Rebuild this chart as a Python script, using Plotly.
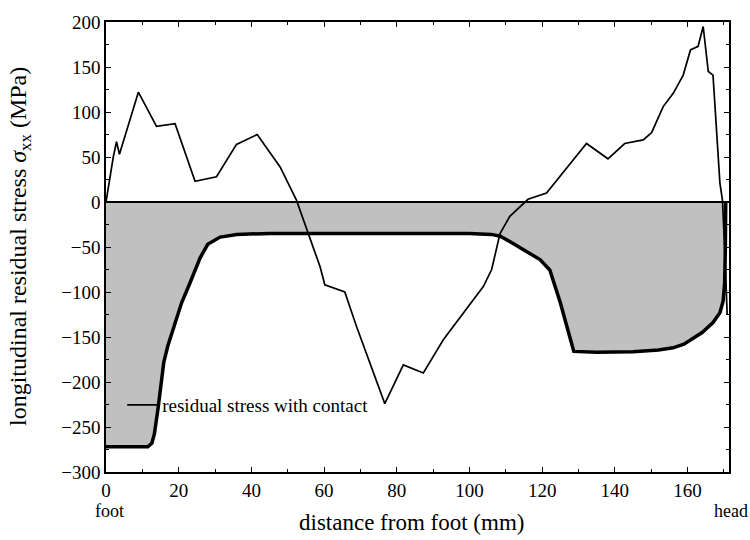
import plotly.graph_objects as go

# Residual stress along the rail, from foot (0 mm) to head (~171 mm)

# Stress distribution with contact (thin black line)
contact_x = [0, 1.0, 2.0, 2.9, 3.7, 8.9, 13.9, 19.0, 24.5, 30.4, 35.9, 41.6,
             47.9, 52.4, 55.6, 58.9, 60.2, 65.7, 68.9, 76.7, 81.8, 87.3, 92.8,
             103.8, 106.1, 108.4, 111.1, 116.1, 121.2, 132.2, 138.1, 142.7,
             147.8, 150.1, 153.3, 156.1, 158.8, 160.8, 162.9, 164.3, 165.7,
             167.0, 168.9, 169.6, 170.3, 170.9]
contact_y = [0, 25, 50, 67, 53, 122, 84, 87, 23, 28, 64, 75,
             39, 2, -35, -72, -92, -100, -138, -224, -181, -190, -153,
             -94, -75, -35, -16, 3, 10, 65, 48, 65,
             69, 77, 106, 121, 141, 169, 173, 195, 145,
             141, 21, 2, -60, -125]

# Compressive stress profile without contact (shaded region)
base_x = [0, 11.5, 12.6, 13.3, 14.3, 15.3, 15.9, 17.0, 19.0, 20.8, 23.1, 25.9,
          28.0, 31.4, 36.0, 45.0, 70.0, 100.0, 106.0, 108.5, 112.0, 116.0,
          119.4, 122.1, 125.0, 127.6, 128.7, 135.0, 145.0, 152.0, 156.0,
          159.0, 161.4, 164.0, 167.0, 168.9, 169.8, 170.2, 170.4, 170.5]
base_y = [-272, -272, -268, -258, -230, -200, -178, -160, -135, -112, -90, -62,
          -47, -39, -36, -35, -35, -35, -36, -38, -46, -56,
          -64, -75.5, -112, -150, -166, -167, -166.5, -164.5, -162,
          -158, -152, -145, -134, -123, -110, -90, -50, 0]

legend_label = "residual stress with contact"
x_title = "distance from foot (mm)"
y_title = "longitudinal residual stress <i>σ</i><sub>xx</sub> (MPa)"
x_ticks = [0, 20, 40, 60, 80, 100, 120, 140, 160]
y_ticks = [200, 150, 100, 50, 0, -50, -100, -150, -200, -250, -300]
x_range = [0, 171.4]
y_range = [-300, 200]

SERIF = "Liberation Serif"

fig = go.Figure()

# shaded compressive zone bounded by a heavy outline
fig.add_trace(go.Scatter(
    x=base_x, y=base_y, mode="lines", fill="tozeroy",
    fillcolor="#c0c0c0", line=dict(color="black", width=3.5),
    showlegend=False, hoverinfo="skip"))

# zero-stress reference line
fig.add_trace(go.Scatter(
    x=x_range, y=[0, 0], mode="lines",
    line=dict(color="black", width=2), showlegend=False, hoverinfo="skip"))

fig.add_trace(go.Scatter(
    x=contact_x, y=contact_y, mode="lines", name=legend_label,
    line=dict(color="black", width=1.7)))

tick_font = dict(family=SERIF, size=19, color="black")

axis_common = dict(
    showline=True, linecolor="black", linewidth=1.5, mirror="ticks",
    ticks="inside", ticklen=5, tickwidth=1.2, tickcolor="black",
    showgrid=False, zeroline=False,
)

fig.update_xaxes(range=x_range, tickvals=x_ticks, tickfont=tick_font,
                 minor=dict(dtick=10, ticks="inside", ticklen=3,
                            tickcolor="black", showgrid=False),
                 **axis_common)
fig.update_yaxes(range=y_range, tickvals=y_ticks, tickfont=tick_font,
                 minor=dict(dtick=25, ticks="inside", ticklen=3,
                            tickcolor="black", showgrid=False),
                 **axis_common)

fig.update_layout(
    width=750, height=540,
    margin=dict(l=106, r=21, t=22, b=68),
    paper_bgcolor="white", plot_bgcolor="white",
    font=dict(family=SERIF, color="black"),
    showlegend=True,
    legend=dict(x=0.026, y=0.149, xanchor="left", yanchor="middle",
                bgcolor="rgba(0,0,0,0)", borderwidth=0,
                font=dict(family=SERIF, size=19, color="black")),
    annotations=[
        dict(text=x_title, xref="paper", yref="paper", x=0.491, y=-0.113,
             xanchor="center", yanchor="middle", showarrow=False,
             font=dict(family=SERIF, size=23)),
        dict(text=y_title, xref="paper", yref="paper", x=-0.138, y=0.50,
             xanchor="center", yanchor="middle", showarrow=False,
             textangle=-90, font=dict(family=SERIF, size=24)),
        dict(text="foot", xref="paper", yref="paper", x=0.0064, y=-0.087,
             xanchor="center", yanchor="middle", showarrow=False,
             font=dict(family=SERIF, size=18)),
        dict(text="head", xref="paper", yref="paper", x=1.003, y=-0.087,
             xanchor="center", yanchor="middle", showarrow=False,
             font=dict(family=SERIF, size=18)),
    ],
)

fig.write_html("out.html")
